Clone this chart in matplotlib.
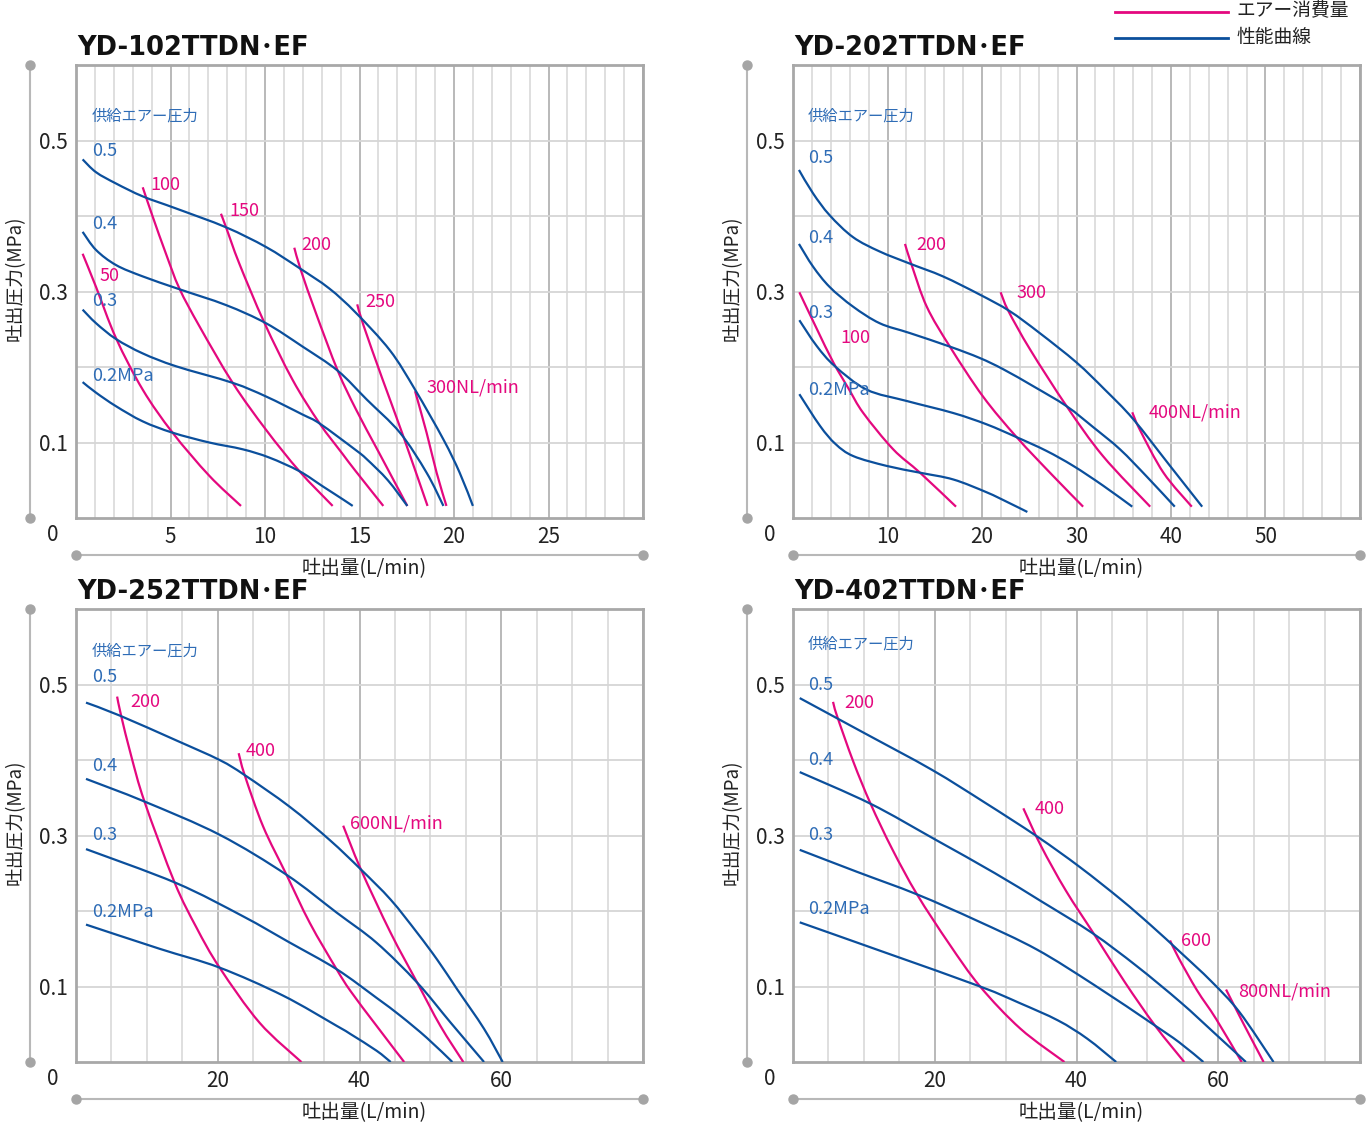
import matplotlib
matplotlib.use("Agg")
import matplotlib.pyplot as plt
from matplotlib.lines import Line2D
from matplotlib.path import Path
from matplotlib.patches import PathPatch
import numpy as np

plt.rcParams['font.family'] = ['Noto Sans CJK JP', 'DejaVu Sans']

BLUE = '#0b4f9c'
MAG = '#e4087f'
BLUE_TXT = '#2e6cb6'
FRAME = '#a8a8a8'
GRID_MIN = '#d6d6d6'
GRID_MAJ = '#b3b3b3'

# ---------------- data: YD-102TTDN・EF ----------------
tl_title = 'YD-102TTDN\uff65EF'
tl_p05_x = [0.35, 1.06, 2.12, 3.53, 5.29, 7.94, 10.05, 11.82, 13.4, 14.8, 16.61, 17.94, 19.44, 20.3, 21.0]
tl_p05_y = [0.475, 0.458, 0.443, 0.426, 0.410, 0.385, 0.359, 0.331, 0.304, 0.272, 0.222, 0.170, 0.104, 0.060, 0.016]
tl_p04_x = [0.35, 1.06, 2.12, 3.53, 5.47, 7.94, 10.05, 11.99, 13.85, 15.38, 17.14, 18.55, 19.44]
tl_p04_y = [0.379, 0.355, 0.335, 0.320, 0.303, 0.282, 0.258, 0.227, 0.195, 0.157, 0.113, 0.060, 0.016]
tl_p03_x = [0.35, 1.06, 2.12, 3.53, 5.29, 8.29, 10.05, 11.99, 12.9, 14.8, 15.38, 16.5, 17.53]
tl_p03_y = [0.276, 0.258, 0.237, 0.218, 0.201, 0.179, 0.161, 0.137, 0.125, 0.090, 0.078, 0.050, 0.016]
tl_p02_x = [0.35, 1.06, 2.12, 3.53, 5.11, 7.05, 8.82, 10.23, 11.82, 13.05, 14.1, 14.64]
tl_p02_y = [0.180, 0.166, 0.148, 0.128, 0.113, 0.100, 0.091, 0.080, 0.062, 0.042, 0.025, 0.016]
tl_a50_x = [0.35, 1.06, 2.12, 3.53, 5.11, 7.05, 8.73]
tl_a50_y = [0.350, 0.306, 0.238, 0.170, 0.113, 0.056, 0.016]
tl_a100_x = [3.53, 4.06, 4.76, 5.47, 6.53, 8.29, 10.05, 11.82, 13.58]
tl_a100_y = [0.438, 0.399, 0.350, 0.304, 0.254, 0.179, 0.117, 0.062, 0.016]
tl_a150_x = [7.67, 7.94, 8.64, 9.96, 11.46, 12.87, 14.1, 14.8, 16.26]
tl_a150_y = [0.403, 0.385, 0.337, 0.259, 0.183, 0.126, 0.085, 0.062, 0.016]
tl_a200_x = [11.55, 11.9, 12.7, 13.85, 14.81, 16.0, 17.53]
tl_a200_y = [0.358, 0.328, 0.271, 0.195, 0.144, 0.088, 0.016]
tl_a250_x = [14.88, 15.2, 16.2, 17.25, 18.6]
tl_a250_y = [0.283, 0.256, 0.185, 0.113, 0.016]
tl_a300_x = [17.94, 18.55, 19.08, 19.6]
tl_a300_y = [0.168, 0.113, 0.060, 0.016]

# ---------------- data: YD-202TTDN・EF ----------------
tr_title = 'YD-202TTDN\uff65EF'
tr_p05_x = [0.63, 2.12, 3.88, 6.35, 9.17, 12.35, 15.87, 19.75, 22.93, 26.1, 30.0, 33.0, 36.0, 39.9, 43.3]
tr_p05_y = [0.461, 0.430, 0.401, 0.372, 0.353, 0.337, 0.320, 0.296, 0.274, 0.245, 0.206, 0.170, 0.131, 0.069, 0.015]
tr_p04_x = [0.63, 2.12, 3.88, 6.35, 9.17, 12.35, 16.6, 19.75, 22.25, 25.5, 28.96, 31.8, 34.6, 37.5, 40.4]
tr_p04_y = [0.363, 0.333, 0.306, 0.280, 0.258, 0.245, 0.227, 0.212, 0.197, 0.174, 0.148, 0.120, 0.091, 0.054, 0.015]
tr_p03_x = [0.67, 2.5, 4.44, 7.8, 12.03, 16.97, 20.5, 23.67, 26.8, 29.66, 32.8, 35.9]
tr_p03_y = [0.262, 0.228, 0.201, 0.170, 0.155, 0.139, 0.124, 0.107, 0.089, 0.069, 0.043, 0.015]
tr_p02_x = [0.67, 2.86, 4.5, 6.38, 9.91, 13.44, 16.97, 20.5, 22.7, 24.8]
tr_p02_y = [0.164, 0.122, 0.098, 0.082, 0.069, 0.060, 0.051, 0.034, 0.021, 0.008]
tr_a100_x = [0.67, 2.5, 4.27, 5.9, 7.44, 10.6, 13.44, 17.25]
tr_a100_y = [0.299, 0.251, 0.206, 0.171, 0.139, 0.091, 0.060, 0.015]
tr_a200_x = [11.85, 12.56, 14.15, 16.6, 20.1, 23.67, 27.5, 30.7]
tr_a200_y = [0.363, 0.335, 0.280, 0.227, 0.161, 0.107, 0.056, 0.015]
tr_a300_x = [21.97, 22.8, 25.1, 28.96, 32.8, 37.8]
tr_a300_y = [0.299, 0.274, 0.223, 0.148, 0.082, 0.015]
tr_a400_x = [35.9, 36.7, 39.2, 42.2]
tr_a400_y = [0.140, 0.117, 0.060, 0.015]

# ---------------- data: YD-252TTDN・EF ----------------
bl_title = 'YD-252TTDN\uff65EF'
bl_p05_x = [1.41, 6.13, 14.14, 20.26, 23.8, 30.16, 35.8, 40.2, 44.4, 48.15, 51.0, 53.8, 57.57, 60.2]
bl_p05_y = [0.476, 0.459, 0.426, 0.400, 0.380, 0.338, 0.294, 0.255, 0.215, 0.171, 0.135, 0.096, 0.044, 0.0]
bl_p04_x = [1.41, 9.66, 20.26, 29.7, 36.76, 42.4, 48.15, 52.87, 57.57]
bl_p04_y = [0.375, 0.345, 0.301, 0.248, 0.198, 0.158, 0.105, 0.052, 0.0]
bl_p03_x = [1.41, 14.14, 23.56, 30.0, 36.76, 42.4, 45.8, 49.5, 53.1]
bl_p03_y = [0.282, 0.237, 0.193, 0.159, 0.123, 0.085, 0.061, 0.032, 0.0]
bl_p02_x = [1.41, 11.78, 20.26, 29.2, 36.76, 38.73, 42.4, 44.4]
bl_p02_y = [0.182, 0.150, 0.125, 0.088, 0.048, 0.037, 0.015, 0.0]
bl_a200_x = [5.8, 6.36, 7.8, 9.66, 13.9, 17.0, 20.26, 25.9, 31.8]
bl_a200_y = [0.484, 0.459, 0.405, 0.345, 0.238, 0.178, 0.125, 0.052, 0.0]
bl_a400_x = [22.95, 23.8, 26.4, 29.7, 33.0, 36.76, 38.73, 42.4, 46.3]
bl_a400_y = [0.409, 0.380, 0.312, 0.248, 0.184, 0.123, 0.094, 0.048, 0.0]
bl_a600_x = [37.7, 40.2, 44.4, 48.15, 51.4, 54.65]
bl_a600_y = [0.313, 0.255, 0.171, 0.105, 0.048, 0.0]

# ---------------- data: YD-402TTDN・EF ----------------
br_title = 'YD-402TTDN\uff65EF'
br_p05_x = [0.95, 10.0, 19.6, 27.0, 34.4, 40.5, 46.3, 50.5, 54.7, 59.0, 63.0, 67.8]
br_p05_y = [0.482, 0.436, 0.387, 0.344, 0.299, 0.258, 0.215, 0.181, 0.145, 0.107, 0.066, 0.0]
br_p04_x = [0.95, 10.95, 20.0, 28.5, 35.0, 42.2, 48.5, 54.7, 59.5, 63.9]
br_p04_y = [0.384, 0.342, 0.295, 0.250, 0.213, 0.171, 0.127, 0.079, 0.038, 0.0]
br_p03_x = [0.95, 9.0, 17.5, 26.0, 34.4, 42.5, 50.8, 54.5, 57.9]
br_p03_y = [0.281, 0.252, 0.222, 0.187, 0.149, 0.102, 0.050, 0.026, 0.0]
br_p02_x = [0.95, 13.0, 26.4, 32.0, 37.4, 41.5, 45.6]
br_p02_y = [0.185, 0.145, 0.100, 0.078, 0.055, 0.031, 0.0]
br_a200_x = [5.65, 6.19, 8.5, 10.95, 14.0, 17.5, 22.0, 26.4, 32.1, 38.3]
br_a200_y = [0.477, 0.459, 0.398, 0.342, 0.282, 0.222, 0.157, 0.100, 0.044, 0.0]
br_a400_x = [32.5, 35.0, 38.5, 42.5, 46.8, 51.1, 55.2]
br_a400_y = [0.336, 0.286, 0.227, 0.169, 0.106, 0.048, 0.0]
br_a600_x = [53.2, 54.4, 57.0, 59.7, 63.3]
br_a600_y = [0.161, 0.138, 0.095, 0.057, 0.0]
br_a800_x = [61.1, 63.6, 66.4]
br_a800_y = [0.096, 0.050, 0.0]

pressure_labels = ['0.5', '0.4', '0.3', '0.2MPa']
supply_label = '供給エアー圧力'
ylabel = '吐出圧力(MPa)'
xlabel = '吐出量(L/min)'
legend_labels = ['エアー消費量', '性能曲線']

panels = [
    dict(title=tl_title, rect=[76, 65], xmax=30, minor=1, major=5, labels=[5, 10, 15, 20, 25],
         blue=[(tl_p05_x, tl_p05_y), (tl_p04_x, tl_p04_y), (tl_p03_x, tl_p03_y), (tl_p02_x, tl_p02_y)],
         mag=[(tl_a50_x, tl_a50_y), (tl_a100_x, tl_a100_y), (tl_a150_x, tl_a150_y),
              (tl_a200_x, tl_a200_y), (tl_a250_x, tl_a250_y), (tl_a300_x, tl_a300_y)],
         supply_pos=(0.85, 0.532), plabel_pos=[(0.85, 0.486), (0.85, 0.389), (0.85, 0.288), (0.85, 0.188)],
         mlabels=[('50', 1.22, 0.321), ('100', 3.92, 0.441), ('150', 8.1, 0.407), ('200', 11.9, 0.362),
                  ('250', 15.29, 0.286), ('300NL/min', 18.52, 0.173)]),
    dict(title=tr_title, rect=[793, 65], xmax=60, minor=2, major=10, labels=[10, 20, 30, 40, 50],
         blue=[(tr_p05_x, tr_p05_y), (tr_p04_x, tr_p04_y), (tr_p03_x, tr_p03_y), (tr_p02_x, tr_p02_y)],
         mag=[(tr_a100_x, tr_a100_y), (tr_a200_x, tr_a200_y), (tr_a300_x, tr_a300_y), (tr_a400_x, tr_a400_y)],
         supply_pos=(1.59, 0.532), plabel_pos=[(1.59, 0.477), (1.59, 0.371), (1.59, 0.271), (1.59, 0.170)],
         mlabels=[('100', 4.97, 0.238), ('200', 13.0, 0.362), ('300', 23.7, 0.298), ('400NL/min', 37.6, 0.140)]),
    dict(title=bl_title, rect=[76, 609], xmax=80, minor=5, major=20, labels=[20, 40, 60],
         blue=[(bl_p05_x, bl_p05_y), (bl_p04_x, bl_p04_y), (bl_p03_x, bl_p03_y), (bl_p02_x, bl_p02_y)],
         mag=[(bl_a200_x, bl_a200_y), (bl_a400_x, bl_a400_y), (bl_a600_x, bl_a600_y)],
         supply_pos=(2.26, 0.544), plabel_pos=[(2.26, 0.510), (2.26, 0.392), (2.26, 0.301), (2.26, 0.199)],
         mlabels=[('200', 7.63, 0.477), ('400', 24.0, 0.412), ('600NL/min', 38.7, 0.316)]),
    dict(title=br_title, rect=[793, 609], xmax=80, minor=5, major=20, labels=[20, 40, 60],
         blue=[(br_p05_x, br_p05_y), (br_p04_x, br_p04_y), (br_p03_x, br_p03_y), (br_p02_x, br_p02_y)],
         mag=[(br_a200_x, br_a200_y), (br_a400_x, br_a400_y), (br_a600_x, br_a600_y), (br_a800_x, br_a800_y)],
         supply_pos=(2.12, 0.553), plabel_pos=[(2.12, 0.499), (2.12, 0.400), (2.12, 0.300), (2.12, 0.202)],
         mlabels=[('200', 7.2, 0.475), ('400', 34.1, 0.335), ('600', 54.7, 0.160), ('800NL/min', 62.8, 0.094)]),
]


def smooth_path(xs, ys):
    """Catmull-Rom curve through the read points, expressed as cubic Bezier segments."""
    pts = np.column_stack([xs, ys]).astype(float)
    ext = np.vstack([pts[0], pts, pts[-1]])
    verts = [pts[0]]
    codes = [Path.MOVETO]
    for i in range(1, len(ext) - 2):
        p0, p1, p2, p3 = ext[i - 1], ext[i], ext[i + 1], ext[i + 2]
        verts += [p1 + (p2 - p0) / 6.0, p2 - (p3 - p1) / 6.0, p2]
        codes += [Path.CURVE4] * 3
    return Path(verts, codes)


def draw_curve(ax, xs, ys, color, z):
    patch = PathPatch(smooth_path(xs, ys), facecolor='none', edgecolor=color, lw=1.6,
                      capstyle='butt', joinstyle='round', zorder=z)
    ax.add_patch(patch)


W, H = 1370, 1129
fig = plt.figure(figsize=(W / 100, H / 100), dpi=100)
AW, AH = 567, 453
TITLE_FONT = ['DejaVu Sans', 'Noto Sans CJK JP']

for p in panels:
    x0, y0 = p['rect']
    ax = fig.add_axes([x0 / W, 1 - (y0 + AH) / H, AW / W, AH / H])
    xmax = p['xmax']
    ax.set_xlim(0, xmax)
    ax.set_ylim(0, 0.6)
    majors = np.arange(0, xmax + 1e-9, p['major'])
    ax.set_xticks(majors)
    ax.set_xticklabels([f'{v:g}' if v in p['labels'] else '' for v in majors])
    ax.set_xticks(np.arange(0, xmax + 1e-9, p['minor']), minor=True)
    ax.set_yticks([0.1, 0.2, 0.3, 0.4, 0.5])
    ax.set_yticklabels(['0.1', '', '0.3', '', '0.5'])
    ax.tick_params(which='both', length=0, labelsize=15, colors='#222222')
    ax.tick_params(axis='x', pad=6)
    ax.tick_params(axis='y', pad=6)
    ax.grid(which='minor', axis='x', color=GRID_MIN, lw=1.1)
    ax.grid(which='major', axis='x', color=GRID_MAJ, lw=1.3)
    ax.grid(which='major', axis='y', color=GRID_MIN, lw=1.3)
    ax.set_axisbelow(True)
    for s in ax.spines.values():
        s.set_color(FRAME)
        s.set_linewidth(2.0)

    for xs, ys in p['mag']:
        draw_curve(ax, xs, ys, MAG, 3)
    for xs, ys in p['blue']:
        draw_curve(ax, xs, ys, BLUE, 4)

    ax.text(*p['supply_pos'], supply_label, color=BLUE_TXT, fontsize=11, va='center', ha='left', zorder=5)
    for lbl, (px, py) in zip(pressure_labels, p['plabel_pos']):
        ax.text(px, py, lbl, color=BLUE_TXT, fontsize=13, va='center', ha='left', zorder=5)
    for lbl, px, py in p['mlabels']:
        ax.text(px, py, lbl, color=MAG, fontsize=13, va='center', ha='left', zorder=5)

    # origin label
    ax.text(-0.041, -0.037, '0', transform=ax.transAxes, fontsize=15, color='#222222', ha='center', va='center')
    # decorative axis lines with dots
    vx = (30 - 76) / AW
    ax.plot([vx, vx], [0, 1], transform=ax.transAxes, clip_on=False, color='#b8b8b8', lw=1.5)
    ax.plot([vx, vx], [0, 1], 'o', transform=ax.transAxes, clip_on=False, color='#a5a5a5', ms=6.5)
    hy = -37 / AH
    ax.plot([0, 1], [hy, hy], transform=ax.transAxes, clip_on=False, color='#b8b8b8', lw=1.5)
    ax.plot([0, 1], [hy, hy], 'o', transform=ax.transAxes, clip_on=False, color='#a5a5a5', ms=6.5)

    ax.text((15 - 76) / AW, 0.53, ylabel, rotation=90, transform=ax.transAxes, fontsize=13.5,
            color='#222222', ha='center', va='center')
    ax.text(0.508, -51 / AH, xlabel, transform=ax.transAxes, fontsize=14,
            color='#222222', ha='center', va='center')

    ax.text(0.003, 1 + 10 / AH, p['title'], transform=ax.transAxes, fontsize=18.5, fontweight='bold',
            family=TITLE_FONT, color='#111111', ha='left', va='baseline')

# legend
fig.add_artist(Line2D([1115 / W, 1228 / W], [1 - 12 / H, 1 - 12 / H], color=MAG, lw=2, transform=fig.transFigure))
fig.add_artist(Line2D([1115 / W, 1228 / W], [1 - 38 / H, 1 - 38 / H], color=BLUE, lw=2, transform=fig.transFigure))
fig.text(1236 / W, 1 - 11 / H, legend_labels[0], fontsize=13.5, color='#222222', ha='left', va='center')
fig.text(1236 / W, 1 - 37 / H, legend_labels[1], fontsize=13.5, color='#222222', ha='left', va='center')

fig.savefig('out.png', dpi=100)
